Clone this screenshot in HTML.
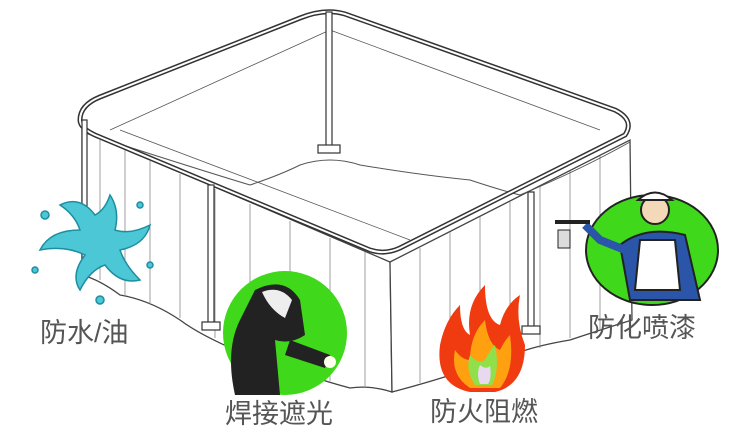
<!DOCTYPE html>
<html><head><meta charset="utf-8"><style>
html,body{margin:0;padding:0;background:#fff;}
svg{display:block}
.t{font-family:"Liberation Sans","Noto Sans CJK SC",sans-serif;font-size:27px;fill:#555;}
</style></head><body>
<svg width="752" height="447" viewBox="0 0 752 447" xmlns="http://www.w3.org/2000/svg">
<g stroke="#444" stroke-width="1.3" fill="#fff">
<path d="M82 130 L390 262 L392 392 Q370 385 350 388 Q320 380 300 372 Q270 360 240 352 Q200 335 180 320 Q150 300 120 295 Q100 280 82 275 Z"/>
<path d="M390 262 L630 140 L632 320 Q600 330 570 340 Q540 345 520 352 Q490 360 460 372 Q430 382 392 392 Z"/>
</g>
<g stroke="#888" stroke-width="0.8">
<line x1="100" y1="140" x2="100" y2="280"/><line x1="125" y1="150" x2="125" y2="296"/>
<line x1="150" y1="161" x2="150" y2="304"/><line x1="180" y1="174" x2="180" y2="318"/>
<line x1="215" y1="189" x2="215" y2="338"/><line x1="250" y1="204" x2="250" y2="354"/>
<line x1="290" y1="221" x2="290" y2="368"/><line x1="330" y1="238" x2="330" y2="381"/>
<line x1="365" y1="252" x2="365" y2="388"/>
<line x1="420" y1="248" x2="420" y2="383"/><line x1="450" y1="232" x2="450" y2="375"/>
<line x1="480" y1="217" x2="480" y2="366"/><line x1="510" y1="202" x2="510" y2="356"/>
<line x1="540" y1="186" x2="540" y2="348"/><line x1="570" y1="171" x2="570" y2="338"/>
<line x1="600" y1="156" x2="600" y2="330"/>
</g>
<path d="M82 132 Q200 170 250 185 Q280 175 300 165 Q330 155 360 165 Q420 175 470 180 Q500 190 520 195 Q580 170 630 142" fill="none" stroke="#555" stroke-width="1"/>
<path d="M80 120 Q80 105 100 97 L300 18 Q325 8 345 14 L615 110 Q635 120 625 135 L400 248 Q385 255 370 250 L95 135 Q80 128 80 120 Z" fill="none" stroke="#333" stroke-width="5"/>
<path d="M80 120 Q80 105 100 97 L300 18 Q325 8 345 14 L615 110 Q635 120 625 135 L400 248 Q385 255 370 250 L95 135 Q80 128 80 120 Z" fill="none" stroke="#fff" stroke-width="2"/>
<g stroke="#555" stroke-width="0.8" fill="none">
<line x1="110" y1="130" x2="330" y2="30"/><line x1="330" y1="30" x2="600" y2="130"/>
<line x1="120" y1="130" x2="410" y2="240"/>
</g>
<g stroke="#333" stroke-width="1.2" fill="#fff">
<rect x="326" y="12" width="6" height="138"/><rect x="318" y="145" width="22" height="8"/>
<rect x="208" y="185" width="6" height="140"/><rect x="202" y="322" width="18" height="8"/>
<rect x="528" y="192" width="6" height="138"/><rect x="522" y="326" width="18" height="8"/>
<rect x="82" y="120" width="5" height="145"/>
</g>
<g fill="#4cc7d6" stroke="#1d8ea0" stroke-width="1.5">
<path d="M95 215 Q80 195 60 205 Q75 215 80 230 Q50 230 40 250 Q65 245 85 255 Q70 275 80 290 Q90 270 105 265 Q120 285 140 280 Q125 265 120 250 Q145 245 150 225 Q130 235 115 230 Q120 210 110 195 Q105 210 95 215 Z"/>
<circle cx="45" cy="215" r="4"/><circle cx="140" cy="205" r="3"/><circle cx="35" cy="270" r="3"/><circle cx="150" cy="265" r="3"/><circle cx="100" cy="300" r="4"/>
</g>
<text class="t" x="40" y="342">防水/油</text>
<circle cx="285" cy="333" r="62" fill="#3fd81a"/>
<path d="M255 290 Q285 275 300 300 L305 335 Q290 345 275 340 L280 395 L235 395 Q225 350 240 320 Z" fill="#222"/>
<path d="M262 292 Q280 285 292 300 L285 318 Q270 310 262 292 Z" fill="#eee"/>
<path d="M290 340 L330 355 L325 368 L285 355 Z" fill="#222"/>
<circle cx="330" cy="362" r="6" fill="#ffe"/>
<text class="t" x="225" y="423">焊接遮光</text>
<path d="M470 392 Q435 385 440 345 Q445 320 460 305 Q460 330 470 335 Q465 305 485 285 Q485 320 500 325 Q505 305 520 295 Q515 320 525 345 Q525 385 495 392 Z" fill="#f03a10"/>
<path d="M470 388 Q450 375 455 350 Q462 360 470 360 Q470 335 485 320 Q488 345 500 350 Q505 340 510 335 Q515 370 500 388 Z" fill="#ffa010"/>
<path d="M475 385 Q465 370 470 355 Q478 365 485 360 Q490 350 495 345 Q500 370 492 385 Z" fill="#8fe04a"/>
<path d="M480 384 Q476 374 480 365 Q486 370 490 366 Q492 378 488 384 Z" fill="#e8d8f0"/>
<text class="t" x="430" y="421">防火阻燃</text>
<ellipse cx="652" cy="250" rx="66" ry="55" fill="#3fd81a" stroke="#222" stroke-width="2"/>
<circle cx="655" cy="210" r="14" fill="#f3d9b8" stroke="#222" stroke-width="2"/>
<path d="M638 200 Q655 185 672 200 Z" fill="#fff" stroke="#222" stroke-width="2"/>
<path d="M620 245 Q645 225 685 235 L700 300 L630 300 Z" fill="#2a55a8" stroke="#222" stroke-width="2"/>
<path d="M640 240 L675 240 L680 290 L635 290 Z" fill="#fff" stroke="#222" stroke-width="2"/>
<path d="M625 250 L600 240 L585 225" stroke="#2a55a8" stroke-width="8" fill="none"/>
<path d="M555 222 L590 222" stroke="#222" stroke-width="4" fill="none"/>
<rect x="558" y="230" width="12" height="18" fill="#ddd" stroke="#222"/>
<text class="t" x="588" y="337">防化喷漆</text>
</svg>
</body></html>
